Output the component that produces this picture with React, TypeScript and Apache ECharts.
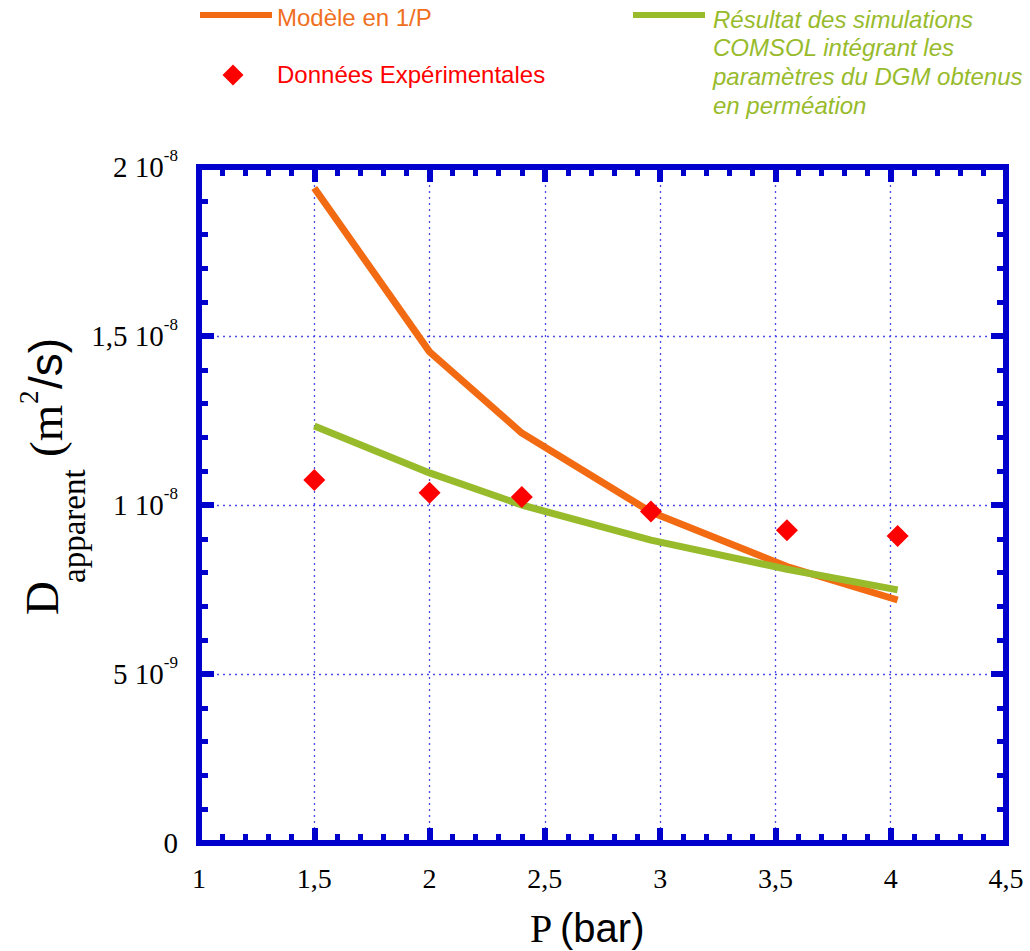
import React, { useEffect, useRef } from "react";
import * as echarts from "echarts";

const pressures = [1.5, 2.0, 2.4, 2.96, 3.55, 4.03];
const modelValues = [1.938e-8, 1.453e-8, 1.213e-8, 0.979e-8, 0.818e-8, 0.719e-8];
const comsolValues = [1.234e-8, 1.095e-8, 1.0e-8, 0.896e-8, 0.81e-8, 0.749e-8];
const expValues = [1.074e-8, 1.036e-8, 1.024e-8, 0.981e-8, 0.925e-8, 0.908e-8];

const legendModel = "Modèle en 1/P";
const legendExp = "Données Expérimentales";
const legendComsol = [
  "Résultat des simulations",
  "COMSOL intégrant les",
  "paramètres du DGM obtenus",
  "en perméation",
];

const FRAME = "#0000CC";
const ORANGE = "#F26A12";
const GREEN = "#98BB2C";
const RED = "#FF0000";
const GRIDC = "#4a4ae6";
const SERIF = "Liberation Serif";
const SANS = "Liberation Sans";

const fmtY = (v: number) => {
  if (Math.abs(v) < 1e-15) return "{a|0}";
  const e = Math.floor(Math.log10(v) + 1e-9);
  const m = Math.round((v / Math.pow(10, e)) * 10) / 10;
  return `{a|${String(m).replace(".", ",")} 10}{s|${e}}`;
};
const fmtX = (v: number) => String(Math.round(v * 10) / 10).replace(".", ",");

export default function App() {
  const ref = useRef<HTMLDivElement>(null);
  useEffect(() => {
    if (!ref.current) return;
    const chart = echarts.init(ref.current, undefined, { renderer: "svg" });

    const frameAxis = {
      axisLine: { show: true, onZero: false, lineStyle: { color: FRAME, width: 6, cap: "square" } },
      axisTick: { show: true, inside: true, length: 15, lineStyle: { color: FRAME, width: 6 } },
      minorTick: { show: true, splitNumber: 5, length: 9, lineStyle: { color: FRAME, width: 5 } },
    };

    const xBase = { type: "value", min: 1, max: 4.5, interval: 0.5, ...frameAxis };
    const yBase = { type: "value", min: 0, max: 2e-8, interval: 5e-9, ...frameAxis };

    const toPairs = (vals: number[]) => pressures.map((p, i) => [p, vals[i]]);

    const legendTexts: any[] = legendComsol.map((t, i) => ({
      type: "text",
      style: {
        text: t,
        x: 713,
        y: 19 + i * 28.8,
        verticalAlign: "middle",
        fill: GREEN,
        font: `italic 24px "${SANS}"`,
      },
    }));

    const yTitle = {
      type: "group",
      x: 0,
      y: 615,
      rotation: Math.PI / 2,
      children: [
        { type: "text", style: { text: "D", x: 0, y: 42, verticalAlign: "middle", fill: "#000", font: `47px "${SERIF}"` } },
        { type: "text", style: { text: "apparent", x: 32, y: 74, verticalAlign: "middle", fill: "#000", font: `33px "${SERIF}"` } },
        { type: "text", style: { text: "(m", x: 158, y: 46, verticalAlign: "middle", fill: "#000", font: `47px "${SERIF}"` } },
        { type: "text", style: { text: "2", x: 211, y: 29, verticalAlign: "middle", fill: "#000", font: `27px "${SERIF}"` } },
        { type: "text", style: { text: "/s)", x: 226, y: 46, verticalAlign: "middle", fill: "#000", font: `46px "${SANS}"` } },
      ],
    };

    const option: any = {
      animation: false,
      backgroundColor: "#fff",
      grid: { left: 199, right: 24, top: 167, bottom: 108, containLabel: false },
      xAxis: [
        {
          ...xBase,
          position: "bottom",
          axisLabel: {
            show: true,
            margin: 21,
            color: "#000",
            fontFamily: SERIF,
            fontSize: 28,
            lineHeight: 28,
            formatter: fmtX,
          },
          splitLine: { show: true, lineStyle: { color: GRIDC, width: 1.3, type: [2, 4] } },
        },
        {
          ...xBase,
          position: "top",
          axisLabel: { show: false },
          splitLine: { show: false },
        },
      ],
      yAxis: [
        {
          ...yBase,
          position: "left",
          axisLabel: {
            show: true,
            margin: 21,
            color: "#000",
            formatter: fmtY,
            rich: {
              a: { fontFamily: SERIF, fontSize: 29, lineHeight: 40, color: "#000" },
              s: { fontFamily: SERIF, fontSize: 17, lineHeight: 17, verticalAlign: "top", color: "#000" },
            },
          },
          splitLine: { show: true, lineStyle: { color: GRIDC, width: 1.3, type: [2, 4] } },
        },
        {
          ...yBase,
          position: "right",
          axisLabel: { show: false },
          splitLine: { show: false },
        },
      ],
      series: [
        {
          name: legendModel,
          type: "line",
          data: toPairs(modelValues),
          showSymbol: false,
          lineStyle: { color: ORANGE, width: 7 },
          itemStyle: { color: ORANGE },
          z: 3,
        },
        {
          name: "COMSOL",
          type: "line",
          data: toPairs(comsolValues),
          showSymbol: false,
          lineStyle: { color: GREEN, width: 7 },
          itemStyle: { color: GREEN },
          z: 3,
        },
        {
          name: legendExp,
          type: "scatter",
          data: toPairs(expValues),
          symbol: "diamond",
          symbolSize: 22,
          itemStyle: { color: RED, opacity: 1 },
          z: 4,
        },
      ],
      graphic: [
        { type: "line", shape: { x1: 200, y1: 15, x2: 272, y2: 15 }, style: { stroke: ORANGE, lineWidth: 6 } },
        {
          type: "text",
          style: { text: legendModel, x: 277, y: 17.5, verticalAlign: "middle", fill: "#F07022", font: `24px "${SANS}"` },
        },
        {
          type: "polygon",
          shape: { points: [[233, 64.5], [243.5, 75], [233, 85.5], [222.5, 75]] },
          style: { fill: RED },
        },
        {
          type: "text",
          style: { text: legendExp, x: 277, y: 74, verticalAlign: "middle", fill: RED, font: `24px "${SANS}"` },
        },
        { type: "line", shape: { x1: 633, y1: 15, x2: 705, y2: 15 }, style: { stroke: GREEN, lineWidth: 6 } },
        ...legendTexts,
        yTitle,
        {
          type: "text",
          style: { text: "P", x: 530, y: 928, verticalAlign: "middle", fill: "#000", font: `40px "${SERIF}"` },
        },
        {
          type: "text",
          style: { text: "(bar)", x: 560, y: 928, verticalAlign: "middle", fill: "#000", font: `40px "${SANS}"` },
        },
      ],
    };
    chart.setOption(option);
    return () => chart.dispose();
  }, []);

  return (
    <div
      ref={ref}
      style={{ position: "absolute", left: 0, top: 0, width: 1030, height: 951 }}
    />
  );
}
